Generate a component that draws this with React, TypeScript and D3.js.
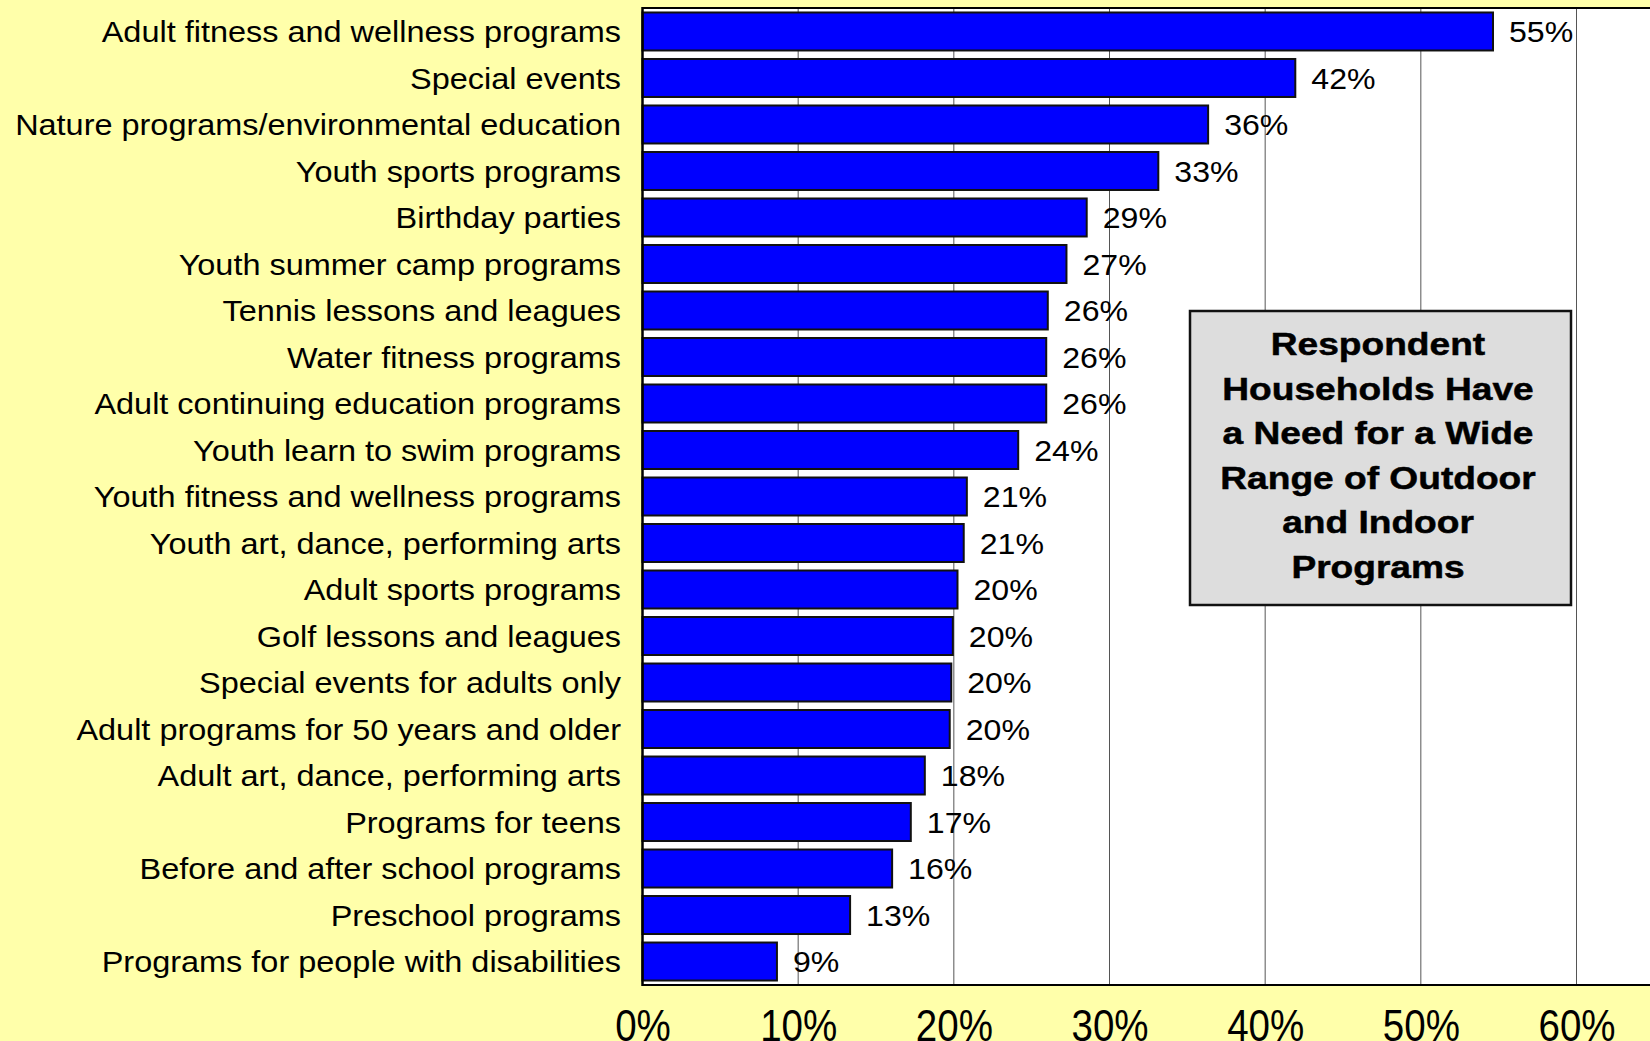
import React, { useEffect, useRef } from "react";
import * as d3 from "d3";

const categories = [
  "Adult fitness and wellness programs",
  "Special events",
  "Nature programs/environmental education",
  "Youth sports programs",
  "Birthday parties",
  "Youth summer camp programs",
  "Tennis lessons and leagues",
  "Water fitness programs",
  "Adult continuing education programs",
  "Youth learn to swim programs",
  "Youth fitness and wellness programs",
  "Youth art, dance, performing arts",
  "Adult sports programs",
  "Golf lessons and leagues",
  "Special events for adults only",
  "Adult programs for 50 years and older",
  "Adult art, dance, performing arts",
  "Programs for teens",
  "Before and after school programs",
  "Preschool programs",
  "Programs for people with disabilities",
];

// percent of respondent households
const values = [
  54.7, 42.0, 36.4, 33.2, 28.6, 27.3, 26.1, 26.0, 26.0, 24.2, 20.9, 20.7, 20.3,
  20.0, 19.9, 19.8, 18.2, 17.3, 16.1, 13.4, 8.7,
];

const xTicks = [0, 10, 20, 30, 40, 50, 60];

const noteLines = [
  "Respondent",
  "Households Have",
  "a Need for a Wide",
  "Range of Outdoor",
  "and Indoor",
  "Programs",
];

const W = 1650;
const H = 1041;
const FONT = "'Liberation Sans', Arial, Helvetica, sans-serif";

export default function App() {
  const ref = useRef<SVGSVGElement>(null);

  useEffect(() => {
    const svg = d3.select(ref.current);
    svg.selectAll("*").remove();

    const margin = { top: 8, left: 642.5, bottom: 985 };

    const x = d3.scaleLinear().domain([0, 60]).range([margin.left, 1576.5]);
    const y = d3
      .scaleBand()
      .domain(categories)
      .range([margin.top, margin.bottom])
      .paddingInner(0.14)
      .paddingOuter(0.075);

    // background
    svg.append("rect").attr("width", W).attr("height", H).attr("fill", "#ffffaa");

    // plot area
    svg
      .append("rect")
      .attr("x", margin.left)
      .attr("y", margin.top)
      .attr("width", W - margin.left + 10)
      .attr("height", margin.bottom - margin.top)
      .attr("fill", "white");

    // gridlines
    svg
      .append("g")
      .selectAll("line")
      .data(xTicks.filter((t) => t > 0))
      .join("line")
      .attr("x1", (d) => x(d))
      .attr("x2", (d) => x(d))
      .attr("y1", margin.top)
      .attr("y2", margin.bottom)
      .attr("stroke", "#555")
      .attr("stroke-width", 1);

    // bars
    svg
      .append("g")
      .selectAll("rect")
      .data(values)
      .join("rect")
      .attr("x", x(0))
      .attr("y", (d, i) => y(categories[i])! + 1)
      .attr("width", (d) => x(d) - x(0) - 1)
      .attr("height", y.bandwidth() - 2)
      .attr("fill", "#0000ff")
      .attr("stroke", "#111")
      .attr("stroke-width", 2);

    // value labels
    svg
      .append("g")
      .selectAll("text")
      .data(values)
      .join("text")
      .attr(
        "transform",
        (d, i) =>
          `translate(${x(d) + 15},${y(categories[i])! + y.bandwidth() / 2}) scale(1.07,1)`
      )
      .attr("dy", "0.36em")
      .attr("font-family", FONT)
      .attr("font-size", 30)
      .attr("fill", "#000")
      .text((d) => `${Math.round(d)}%`);

    // plot borders
    const border = svg.append("g").attr("stroke", "#000");
    border
      .append("line")
      .attr("x1", margin.left)
      .attr("x2", W)
      .attr("y1", margin.top)
      .attr("y2", margin.top)
      .attr("stroke-width", 2);
    border
      .append("line")
      .attr("x1", margin.left)
      .attr("x2", margin.left)
      .attr("y1", margin.top - 1)
      .attr("y2", margin.bottom + 1)
      .attr("stroke-width", 2.5);
    border
      .append("line")
      .attr("x1", margin.left)
      .attr("x2", W)
      .attr("y1", margin.bottom)
      .attr("y2", margin.bottom)
      .attr("stroke-width", 2);

    // category axis
    const gy = svg
      .append("g")
      .attr("transform", `translate(${margin.left},0)`)
      .call(d3.axisLeft(y).tickSize(0).tickPadding(0));
    gy.select(".domain").remove();
    gy.selectAll("text")
      .attr("x", 0)
      .attr("dy", "0.36em")
      .attr("transform", "translate(-21.5,0) scale(1.1,1)")
      .attr("font-family", FONT)
      .attr("font-size", 29.5)
      .attr("fill", "#000");

    // percent axis
    const gx = svg
      .append("g")
      .attr("transform", `translate(0,${margin.bottom})`)
      .call(
        d3
          .axisBottom(x)
          .tickValues(xTicks)
          .tickSize(0)
          .tickPadding(0)
          .tickFormat((d) => `${d}%`)
      );
    gx.select(".domain").remove();
    gx.selectAll("text")
      .attr("y", 0)
      .attr("dy", 0)
      .attr("transform", "translate(0,55.5) scale(0.875,1)")
      .attr("font-family", FONT)
      .attr("font-size", 44)
      .attr("fill", "#000");

    // note box
    const box = svg.append("g");
    box
      .append("rect")
      .attr("x", 1190)
      .attr("y", 311)
      .attr("width", 381)
      .attr("height", 294)
      .attr("fill", "#dddddd")
      .attr("stroke", "#111")
      .attr("stroke-width", 2.5);
    box
      .selectAll("text")
      .data(noteLines)
      .join("text")
      .attr("transform", (d, i) => `translate(1378,${355 + i * 44.6}) scale(1.16,1)`)
      .attr("text-anchor", "middle")
      .attr("font-family", FONT)
      .attr("font-weight", "bold")
      .attr("font-size", 32)
      .attr("fill", "#000")
      .attr("stroke", "#000")
      .attr("stroke-width", 0.5)
      .text((d) => d);
  }, []);

  return (
    <div style={{ position: "absolute", left: 0, top: 0 }}>
      <svg ref={ref} width={W} height={H} style={{ display: "block" }}></svg>
    </div>
  );
}
